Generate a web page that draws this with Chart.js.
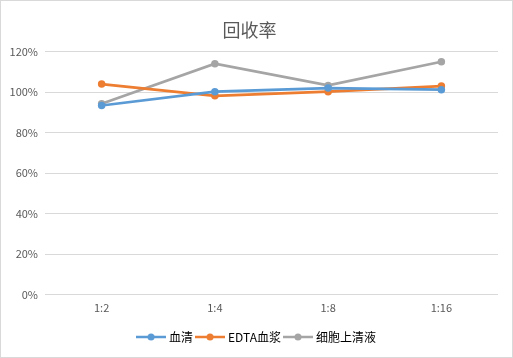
<!DOCTYPE html>
<html><head><meta charset="utf-8">
<script src="https://cdn.jsdelivr.net/npm/chart.js@4/dist/chart.umd.min.js"></script>
<style>
html,body{margin:0;padding:0;background:#fff;}
#wrap{position:relative;width:511px;height:356px;border:1px solid #d9d9d9;}
</style></head><body>
<div id="wrap"><canvas id="c" width="511" height="356"></canvas></div>
<script>
const categories = ["1:2", "1:4", "1:8", "1:16"];
const seriesNames = ["血清", "EDTA血浆", "细胞上清液"];
const serum = [93.4, 100.2, 102.0, 101.2];
const edta = [104.0, 98.2, 100.2, 103.0];
const supernatant = [94.3, 114.0, 103.3, 115.0];
const yTicks = [0, 20, 40, 60, 80, 100, 120];
const colors = ["#5b9bd5", "#ed7d31", "#a5a5a5"];

function marker(color){
  const cv = document.createElement('canvas');
  cv.width = 30; cv.height = 10;
  const g = cv.getContext('2d');
  g.strokeStyle = color; g.lineWidth = 2.5;
  g.beginPath(); g.moveTo(0,5); g.lineTo(30,5); g.stroke();
  g.fillStyle = color; g.beginPath(); g.arc(15,5,3.5,0,Math.PI*2); g.fill();
  return cv;
}
const font = "'Noto Sans CJK SC', 'DejaVu Sans', sans-serif";
const sets = [serum, edta, supernatant].map((d,i)=>({
  label: seriesNames[i], data: d, borderColor: colors[i], backgroundColor: colors[i],
  borderWidth: 2.75, pointRadius: 3.75, pointHoverRadius: 3.75, pointBorderWidth: 0,
  tension: 0, pointStyle: 'circle'
}));
const markers = colors.map(marker);
const shiftLegend = {
  id: 'shiftLegend',
  afterLayout(chart){ if (chart.legend){ chart.legend.left += 8; chart.legend.right += 8; } }
};
new Chart(document.getElementById('c'), {
  type: 'line',
  data: { labels: categories, datasets: sets },
  plugins: [shiftLegend],
  options: {
    responsive: false, animation: false,
    layout: { padding: { left: 0, right: 14, top: 18, bottom: 4 } },
    plugins: {
      title: { display: true, text: "回收率", color: "#595959",
        font: { family: font, size: 18, weight: 'normal' }, padding: { top: 0, bottom: 11 } },
      legend: { position: 'bottom',
        labels: { color: "#000", font: { family: font, size: 12 }, usePointStyle: true, pointStyleWidth: 24, boxHeight: 10, padding: 5,
          generateLabels: (chart) => chart.data.datasets.map((ds,i)=>({
            text: ds.label, fillStyle: colors[i], strokeStyle: colors[i], lineWidth: 0,
            pointStyle: markers[i], datasetIndex: i, hidden: false, fontColor: "#000"
          })) } },
      tooltip: { enabled: false }
    },
    scales: {
      x: { offset: true, grid: { display: false, drawTicks: false }, border: { display: false },
        afterFit: (s)=>{ s.height += 6; },
        ticks: { color: "#595959", font: { family: font, size: 11 }, padding: 6 } },
      y: { min: 0, max: 120, afterFit: (s)=>{ s.width = 44; },
        afterBuildTicks: (s)=>{ s.ticks = yTicks.map(v=>({value:v})); },
        grid: { color: "#d9d9d9", lineWidth: 1, drawTicks: false }, border: { display: false },
        ticks: { color: "#595959", font: { family: font, size: 11 }, padding: 7, callback: v => v + "%" } }
    }
  }
});
</script></body></html>
